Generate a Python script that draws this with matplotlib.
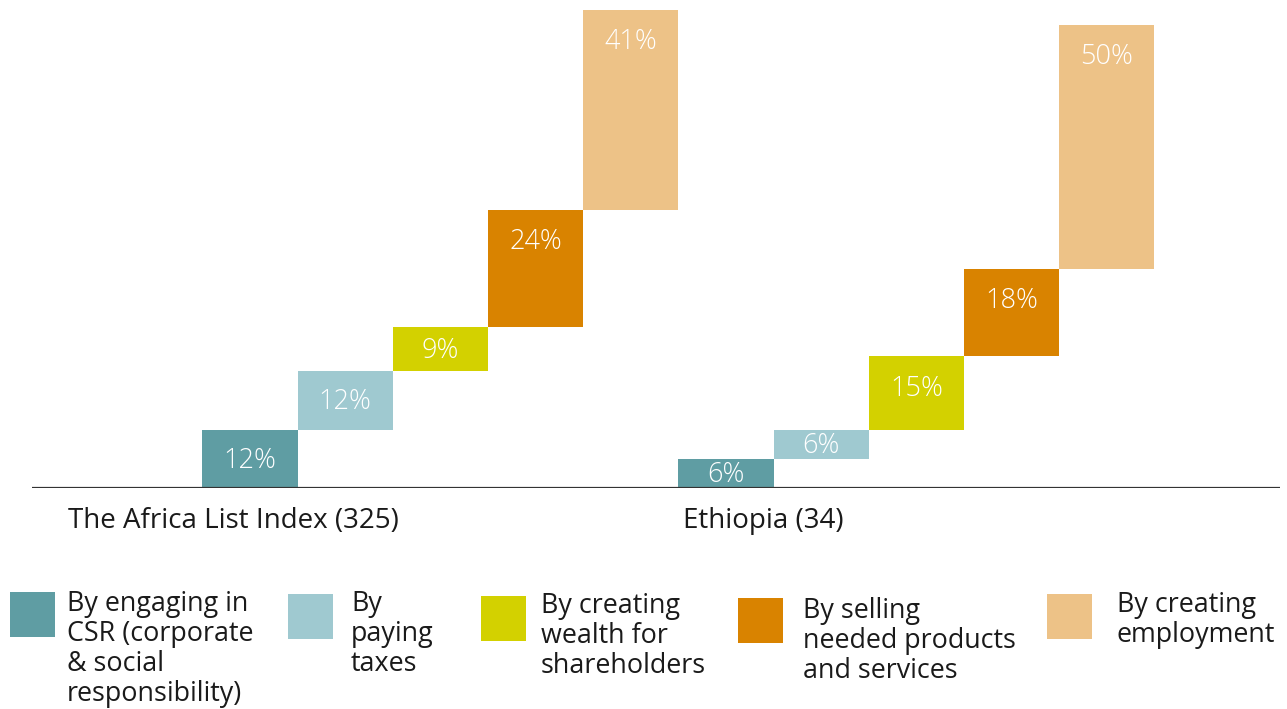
import matplotlib
matplotlib.use("Agg")
import matplotlib.pyplot as plt
from matplotlib.patches import Rectangle

plt.rcParams['font.family'] = ['Open Sans', 'DejaVu Sans']

W, H = 1287, 709

# Data
groups = ["The Africa List Index (325)", "Ethiopia (34)"]
categories = [
    "By engaging in\nCSR (corporate\n& social\nresponsibility)",
    "By\npaying\ntaxes",
    "By creating\nwealth for\nshareholders",
    "By selling\nneeded products\nand services",
    "By creating\nemployment",
]
africa_values = [12, 12, 9, 24, 41]
ethiopia_values = [6, 6, 15, 18, 50]
colors = ["#5F9DA3", "#9FC9D0", "#D3D100", "#D98300", "#EDC287"]

fig = plt.figure(figsize=(W / 100, H / 100), dpi=100)
fig.patch.set_facecolor("white")

# Axes: baseline at 488 px from top, spanning the full width of the rule
PX_PER_PCT = 4.875
ax = fig.add_axes([32 / W, (H - 488) / H, 1248 / W, 488 / H])
ax.set_xlim(-1.79, 11.32)
ax.set_ylim(0, 488 / PX_PER_PCT)
ax.axis("off")

for g, vals in enumerate([africa_values, ethiopia_values]):
    bottom = 0
    for i, v in enumerate(vals):
        x = g * 5 + i
        ax.bar(x, v, width=1.0, bottom=bottom, align="edge",
               color=colors[i], edgecolor="none")
        top = bottom + v
        # label sits near the top of tall steps, centred in short ones
        ly = top - min(v / 2, 6.2) - 0.4
        ax.text(x + 0.5, ly, f"{v}%", ha="center", va="center",
                color="white", fontsize=19.5, fontweight="light")
        bottom = top

# Baseline rule
ax.axhline(0, color="#333333", linewidth=1.6, xmin=0, xmax=1)

# Group labels
group_x = [68, 683]
for gx, name in zip(group_x, groups):
    fig.text(gx / W, 1 - 521 / H, name, ha="left", va="center",
             fontsize=20, color="#1a1a1a")

# Legend: swatches and multi-line labels
sw = [(10, 592), (288, 594), (481, 596), (738, 598), (1047, 594)]
tx = [(67, 590), (351, 590), (541, 592), (803, 597), (1117, 591)]
for i, lab in enumerate(categories):
    sx, sy = sw[i]
    fig.add_artist(Rectangle((sx / W, 1 - (sy + 45) / H), 45 / W, 45 / H,
                             transform=fig.transFigure, color=colors[i],
                             linewidth=0))
    x0, y0 = tx[i]
    fig.text(x0 / W, 1 - y0 / H, lab, ha="left", va="top", fontsize=19.4,
             color="#1a1a1a", linespacing=1.1)

fig.savefig("out.png", dpi=100, facecolor="white")
